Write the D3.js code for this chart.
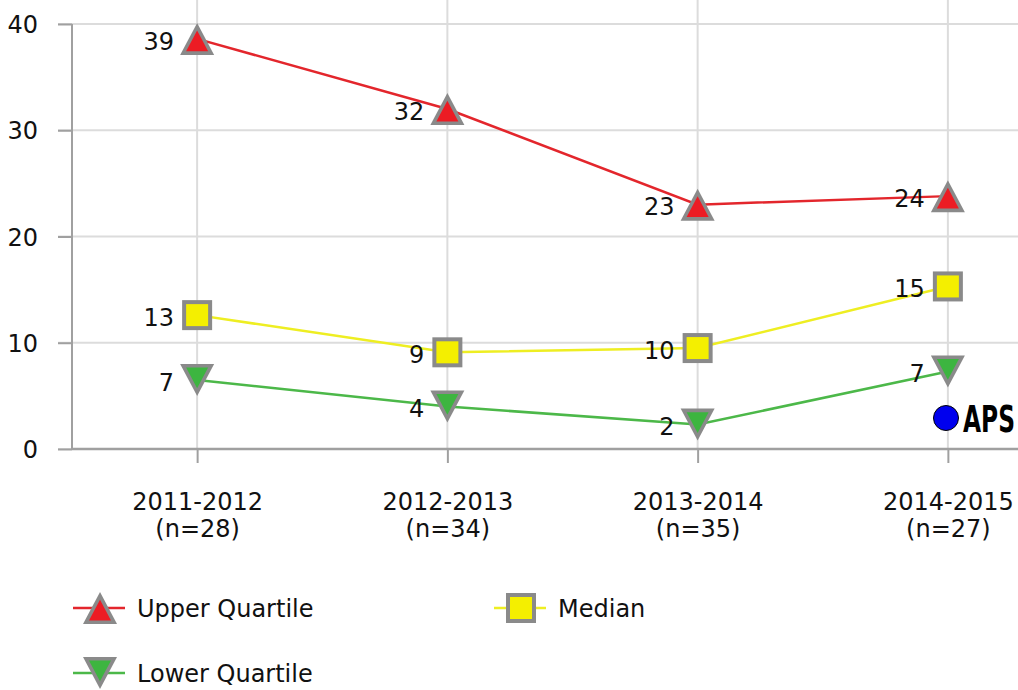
<!DOCTYPE html>
<html>
<head>
<meta charset="utf-8">
<script src="https://cdn.jsdelivr.net/npm/d3@7"></script>
<style>
  html, body { margin: 0; padding: 0; background: #fff; }
  svg { display: block; }
</style>
</head>
<body>
<svg id="chart" width="1018" height="690"></svg>
<script>
// Category labels (two lines each) and series values
const years = ["2011-2012", "2012-2013", "2013-2014", "2014-2015"];
const sampleSizes = ["(n=28)", "(n=34)", "(n=35)", "(n=27)"];
const upperQuartile = [38.6, 32.0, 23.0, 23.8];
const median = [12.6, 9.1, 9.5, 15.3];
const lowerQuartile = [6.5, 4.0, 2.3, 7.3];
const yTicks = [0, 10, 20, 30, 40];

const svg = d3.select("#chart");
const FONT = "'DejaVu Sans', Verdana, sans-serif";
const FS = 24;

const x = d3.scalePoint().domain(years).range([72, 1073]).padding(0.5);
const y = d3.scaleLinear().domain([0, 40]).range([449, 24]);

// gridlines
svg.append("g").selectAll("line.h").data(yTicks).join("line")
  .attr("x1", 58).attr("x2", 1018)
  .attr("y1", d => y(d)).attr("y2", d => y(d))
  .attr("stroke", "#dcdcdc").attr("stroke-width", 2);
svg.append("g").selectAll("line.v").data(years).join("line")
  .attr("x1", d => x(d)).attr("x2", d => x(d))
  .attr("y1", 0).attr("y2", 449)
  .attr("stroke", "#dcdcdc").attr("stroke-width", 2);

// y axis
const yAxis = svg.append("g").attr("transform", "translate(72,0)")
  .call(d3.axisLeft(y).tickValues(yTicks).tickSize(14).tickPadding(20));
yAxis.select(".domain").attr("stroke", "#a0a0a0").attr("stroke-width", 2)
  .attr("d", `M0,${y(40)}V${y(0)}`);
yAxis.selectAll(".tick line").attr("stroke", "#a0a0a0").attr("stroke-width", 2);
yAxis.selectAll(".tick text").attr("font-family", FONT).attr("font-size", FS)
  .attr("fill", "#111").attr("dy", "0.36em");

// x axis
const xAxis = svg.append("g").attr("transform", "translate(0,449)")
  .call(d3.axisBottom(x).tickSize(14).tickFormat(""));
xAxis.select(".domain").attr("stroke", "#a0a0a0").attr("stroke-width", 2.5)
  .attr("d", "M72,0H1018");
xAxis.selectAll(".tick line").attr("stroke", "#a0a0a0").attr("stroke-width", 2);
xAxis.selectAll(".tick").each(function(d, i) {
  const g = d3.select(this);
  g.append("text").attr("x", 0).attr("y", 61)
    .attr("font-family", FONT).attr("font-size", FS).attr("fill", "#111")
    .attr("text-anchor", "middle").text(years[i]);
  g.append("text").attr("x", 0).attr("y", 88)
    .attr("font-family", FONT).attr("font-size", FS).attr("fill", "#111")
    .attr("text-anchor", "middle").text(sampleSizes[i]);
});

// marker shapes
function triPoints(cx, cy, w, h, up) {
  const s = up ? 1 : -1;
  return [[cx, cy - s * h / 2], [cx + w / 2, cy + s * h / 2], [cx - w / 2, cy + s * h / 2]];
}
function drawTriangle(g, cx, cy, up, color) {
  const w = 34, h = 32;
  g.append("polygon").attr("points", triPoints(cx, cy, w, h, up).join(" "))
    .attr("fill", "#8a8a8a");
  // inner triangle scaled about the incenter
  const side = Math.hypot(w / 2, h);
  const r = (w * h / 2) / ((w + 2 * side) / 2);
  const k = (r - 3.6) / r;
  const icy = up ? cy + h / 2 - r : cy - h / 2 + r;
  const pts = triPoints(cx, cy, w, h, up).map(([px, py]) => [cx + (px - cx) * k, icy + (py - icy) * k]);
  g.append("polygon").attr("points", pts.join(" ")).attr("fill", color);
}
function drawSquare(g, cx, cy, color) {
  g.append("rect").attr("x", cx - 15).attr("y", cy - 15).attr("width", 30).attr("height", 30)
    .attr("fill", "#8a8a8a");
  g.append("rect").attr("x", cx - 11).attr("y", cy - 11).attr("width", 22).attr("height", 22)
    .attr("fill", color);
}

const series = [
  { name: "Upper Quartile", values: upperQuartile, line: "#e3262c", fill: "#ec1c24", shape: "up" },
  { name: "Median", values: median, line: "#eeee22", fill: "#f4ef00", shape: "square" },
  { name: "Lower Quartile", values: lowerQuartile, line: "#4cb849", fill: "#3db540", shape: "down" }
];

const line = d3.line().x((d, i) => x(years[i])).y(d => y(d));

series.forEach(s => {
  const g = svg.append("g");
  g.append("path").datum(s.values).attr("d", line)
    .attr("fill", "none").attr("stroke", s.line).attr("stroke-width", 2.5);
  s.values.forEach((v, i) => {
    const cx = x(years[i]), cy = y(v);
    if (s.shape === "square") drawSquare(g, cx, cy, s.fill);
    else drawTriangle(g, cx, cy, s.shape === "up", s.fill);
  });
  g.selectAll("text").data(s.values).join("text")
    .attr("x", (d, i) => x(years[i]) - 23)
    .attr("y", d => y(d) + 2)
    .attr("dy", "0.36em")
    .attr("text-anchor", "end")
    .attr("font-family", FONT).attr("font-size", FS).attr("fill", "#111")
    .text(d => Math.round(d));
});

// APS marker
const aps = svg.append("g");
aps.append("circle").attr("cx", 946).attr("cy", 418).attr("r", 12.5)
  .attr("fill", "#0000ee").attr("stroke", "#000").attr("stroke-width", 1);
aps.append("text").attr("transform", "translate(963,432) scale(1,1.4)")
  .attr("font-family", "'DejaVu Sans Condensed', 'Liberation Sans Narrow', sans-serif")
  .attr("font-weight", "bold").attr("font-size", 26).attr("fill", "#000")
  .attr("textLength", 52).attr("lengthAdjust", "spacingAndGlyphs")
  .text("APS");

// legend
const legendItems = [
  { s: series[0], x: 73, y: 608 },
  { s: series[1], x: 494, y: 608 },
  { s: series[2], x: 73, y: 673 }
];
legendItems.forEach(it => {
  const g = svg.append("g");
  g.append("line").attr("x1", it.x).attr("x2", it.x + 52)
    .attr("y1", it.y).attr("y2", it.y)
    .attr("stroke", it.s.line).attr("stroke-width", 2.5);
  const cx = it.x + 27;
  if (it.s.shape === "square") drawSquare(g, cx, it.y, it.s.fill);
  else drawTriangle(g, cx, it.y, it.s.shape === "up", it.s.fill);
  g.append("text").attr("x", it.x + 64).attr("y", it.y).attr("dy", "0.36em")
    .attr("font-family", FONT).attr("font-size", FS).attr("fill", "#111")
    .text(it.s.name);
});
</script>
</body>
</html>
